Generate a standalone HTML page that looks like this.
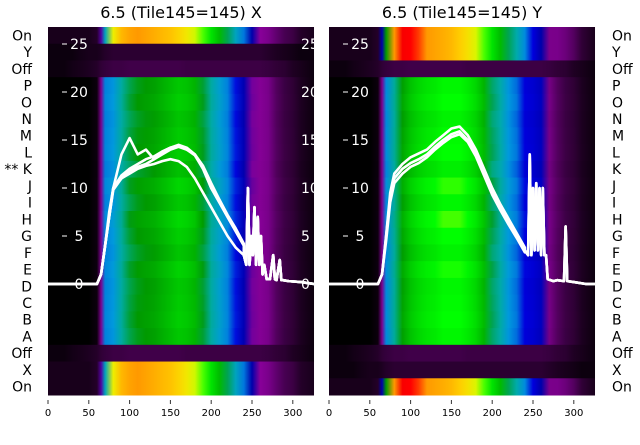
<!DOCTYPE html>
<html><head><meta charset="utf-8"><style>
body{margin:0;background:#fff;width:640px;height:440px;overflow:hidden;font-family:"Liberation Sans","DejaVu Sans",sans-serif}
svg text{font-family:"DejaVu Sans","Liberation Sans",sans-serif}
</style></head><body>
<svg id="c" width="640" height="440"></svg>
<script>
const rows=["On","Y","Off","P","O","N","M","L","K","J","I","H","G","F","E","D","C","B","A","Off","X","On"];
const rowLabelsLeft=["On","Y","Off","P","O","N","M","L","** K","J","I","H","G","F","E","D","C","B","A","Off","X","On"];
const binsX=[0,10,20,30,40,50,60,65,70,80,90,100,110,120,130,140,150,160,170,180,190,200,210,220,230,240,250,260,270,280,290,300,310,326];
const mainX=[0,0,0,0,0,0,0.005,0.07,0.27,0.3,0.37,0.43,0.45,0.46,0.47,0.49,0.51,0.53,0.52,0.5,0.44,0.37,0.32,0.27,0.21,0.16,0.11,0.09,0.055,0.035,0.025,0.02,0.012,0.005];
const onX=[0.01,0.01,0.01,0.01,0.01,0.01,0.015,0.12,0.33,0.7,0.77,0.79,0.8,0.79,0.78,0.77,0.76,0.74,0.71,0.67,0.62,0.56,0.5,0.42,0.33,0.25,0.15,0.1,0.06,0.04,0.03,0.025,0.015,0.01];
const offX=[0.005,0.005,0.005,0.008,0.01,0.012,0.015,0.02,0.022,0.025,0.025,0.027,0.027,0.027,0.027,0.027,0.027,0.027,0.025,0.025,0.025,0.025,0.025,0.025,0.025,0.025,0.025,0.025,0.023,0.02,0.018,0.013,0.01,0.005];
const darkX=[0.005,0.005,0.005,0.005,0.008,0.01,0.01,0.012,0.015,0.018,0.018,0.018,0.018,0.018,0.018,0.018,0.018,0.018,0.018,0.018,0.018,0.018,0.018,0.018,0.018,0.018,0.018,0.018,0.015,0.012,0.01,0.008,0.005,0.005];
const mainY=[0,0,0,0,0,0,0.005,0.07,0.28,0.38,0.47,0.52,0.55,0.57,0.58,0.6,0.6,0.6,0.58,0.55,0.5,0.42,0.36,0.3,0.25,0.2,0.19,0.17,0.05,0.035,0.025,0.02,0.012,0.005];
const onY=[0.01,0.01,0.01,0.01,0.01,0.01,0.015,0.15,0.45,0.8,0.86,0.85,0.83,0.8,0.79,0.78,0.77,0.75,0.72,0.68,0.62,0.56,0.5,0.42,0.35,0.28,0.2,0.15,0.06,0.055,0.045,0.035,0.02,0.01];
const rowTypeX=["on","dark","off","m","m","m","m","m","m","m","m","m","m","m","m","m","m","m","m","off","on","on"];
const rowTypeY=["on","on","off","m","m","m","m","m","m","m","m","m","m","m","m","m","m","m","m","off","dark","on"];
const rowScale=[1,1,1,0.98,1,0.97,0.99,1,0.96,1.02,0.98,1.03,1,0.97,1.01,0.98,0.99,1,0.98,1,1,1];
const lineX=[0,60,65,70,75,80,90,100,110,120,130,140,150,160,170,180,190,200,210,220,230,240];
const seriesX=[
 [0,0,1,4,7,10,11,11.8,12.2,12.5,13,13.5,14,14.3,14,13.5,12,10,8.5,7,5.5,4],
 [0,0,1,4,7.5,10,11.3,12,12.5,13,13.3,13.8,14.2,14.5,14.2,13.5,12.3,10.5,8.8,7.2,5.8,4.2],
 [0,0,1,4,7,9.8,11,11.5,12,12.3,12.5,12.8,13,12.8,12.2,11,9.5,8,6.5,5,3.8,3],
 [0,0,1,4,7,10,13.5,15.2,13.5,14,13,13.8,14.2,14.4,14,13.4,12,10,8.5,7,5.5,4]];
const tailXx=[240,243,245,247,249,251,253,255,257,259,261,263,265,268,272,276,278,280,284,286,288,295,310,326];
const tailXv=[3,2,10,2,5,3,8,2,7,2,5,1,2,0.5,0.5,3,0.5,0.4,2.5,0.4,0.4,0.3,0.2,0];
const seriesY=[
 [0,0,1,5,9,11,12,12.6,13,13.5,14.3,15,15.6,15.9,15,13.5,11.5,9.5,8,6.5,5,3.5],
 [0,0,1,5,9.5,11.5,12.5,13.2,13.6,14,14.8,15.5,16.2,16.4,15.5,14,12,10,8.3,6.8,5.3,3.8],
 [0,0,1,4.5,8.5,10.5,11.5,12.2,12.6,13.2,14,14.7,15.3,15.6,14.8,13.3,11.3,9.3,7.7,6.2,4.8,3.3]];
const tailYx=[240,244,246,248,250,252,254,256,258,260,262,264,266,268,275,280,288,290,292,300,315,326];
const tailYv=[3.5,3,13.5,3,10,3.5,10.5,3.5,10,3,10,3,3,0.5,0.3,0.4,0.3,6,0.3,0.2,0,0];
const xTicks=[0,50,100,150,200,250,300];
const yTicks=[0,5,10,15,20,25];

const NS="http://www.w3.org/2000/svg",svg=document.getElementById('c');
function el(t,a,p){const e=document.createElementNS(NS,t);for(const k in a)e.setAttribute(k,a[k]);(p||svg).appendChild(e);return e;}
const stops=[[0,0,0,0],[.05,.4667,0,.5333],[.1,.5333,0,.6],[.15,0,0,.6667],[.2,0,0,.8667],[.25,0,.4667,.8667],[.3,0,.6,.8667],[.35,0,.6667,.6667],[.4,0,.6667,.5333],[.45,0,.6,0],[.5,0,.7333,0],[.55,0,.8667,0],[.6,0,1,0],[.65,.7333,1,0],[.7,.9333,.9333,0],[.75,1,.8,0],[.8,1,.6,0],[.85,1,0,0],[.9,.8667,0,0],[.95,.8,0,0],[1,.8,.8,.8]];
function cmap(v){v=Math.max(0,Math.min(1,v));for(let i=1;i<stops.length;i++){if(v<=stops[i][0]){const a=stops[i-1],b=stops[i],t=(v-a[0])/(b[0]-a[0]);return `rgb(${[1,2,3].map(j=>Math.round(255*(a[j]+t*(b[j]-a[j])))).join(',')})`;}}return'rgb(204,204,204)';}
const defs=el('defs',{});
const topY=27,rowH=368/22,yZero=284,yUnit=9.6,sx=0.816;
const panels=[{x0:48,title:"6.5 (Tile145=145) X",types:rowTypeX,prof:{m:mainX,on:onX,off:offX,dark:darkX},lines:seriesX,tx:tailXx,tv:tailXv,id:'x'},
{x0:329,title:"6.5 (Tile145=145) Y",types:rowTypeY,prof:{m:mainY,on:onY,off:offX,dark:darkX},lines:seriesY,tx:tailYx,tv:tailYv,id:'y'}];
panels.forEach((p,pi)=>{
 const X=v=>p.x0+v*sx, Y=v=>yZero-v*yUnit, W=326*sx;
 const g=el('g',{});
 
 
 const cp=el('clipPath',{id:'clip'+pi},defs);
 el('rect',{x:p.x0,y:topY,width:W,height:368},cp);
 rows.forEach((r,i)=>{
  const prof=p.prof[p.types[i]],sc=rowScale[i];
  const gid='g'+pi+'_'+i,lg=el('linearGradient',{id:gid,x1:0,x2:1,y1:0,y2:0},defs);
  binsX.forEach((b,k)=>el('stop',{offset:(b/326).toFixed(4),'stop-color':cmap(prof[k]*(p.types[i]==='m'?sc:1))},lg));
  const rc=el('rect',{x:p.x0,y:topY+i*rowH,width:W,height:rowH+0.5,fill:`url(#${gid})`},g);
  
  
 });
 const lg=el('g',{'clip-path':`url(#clip${pi})`},g);
 p.lines.forEach((s,si)=>{
  const pts=s.map((v,k)=>X(lineX[k])+','+Y(v)).concat(p.tx.map((x,k)=>X(x)+','+Y(p.tv[k])));
  const pl=el('polyline',{points:pts.join(' '),fill:'none',stroke:'#fff','stroke-width':2.6,'stroke-linejoin':'round'},lg);
  
  
 });
 yTicks.forEach(t=>{
  const lx=X(38);
  const tl=el('text',{x:lx,y:Y(t)+5,fill:'#fff','font-size':14,'text-anchor':'middle'},g);tl.textContent=t;
  
  
  if(t>0) el('line',{x1:lx-17,x2:lx-12,y1:Y(t),y2:Y(t),stroke:'#fff','stroke-width':1},g);
  if(pi===0){const t2=el('text',{x:X(310),y:Y(t)+5,fill:'#fff','font-size':14,'clip-path':`url(#clip${pi})`},g);t2.textContent=t;
   
   }
 });
 xTicks.forEach(t=>{
  el('line',{x1:X(t),x2:X(t),y1:400,y2:404,stroke:'#333','stroke-width':1},g);
  const tl=el('text',{x:X(t),y:416,'font-size':10,'text-anchor':'middle',fill:'#000'},g);tl.textContent=t;
  
  
 });
 const tt=el('text',{x:p.x0+W/2,y:18,'font-size':16,'text-anchor':'middle',fill:'#000'},g);tt.textContent=p.title;
 
 
});
rows.forEach((r,i)=>{
 const y=topY+i*rowH+rowH/2+5;
 const a=el('text',{x:32,y:y,'font-size':14,'text-anchor':'end',fill:'#000'});a.textContent=rowLabelsLeft[i];
 
 
 const b=el('text',{x:612,y:y,'font-size':14,fill:'#000'});b.textContent=r;
 
 
});
</script>
</body></html>
